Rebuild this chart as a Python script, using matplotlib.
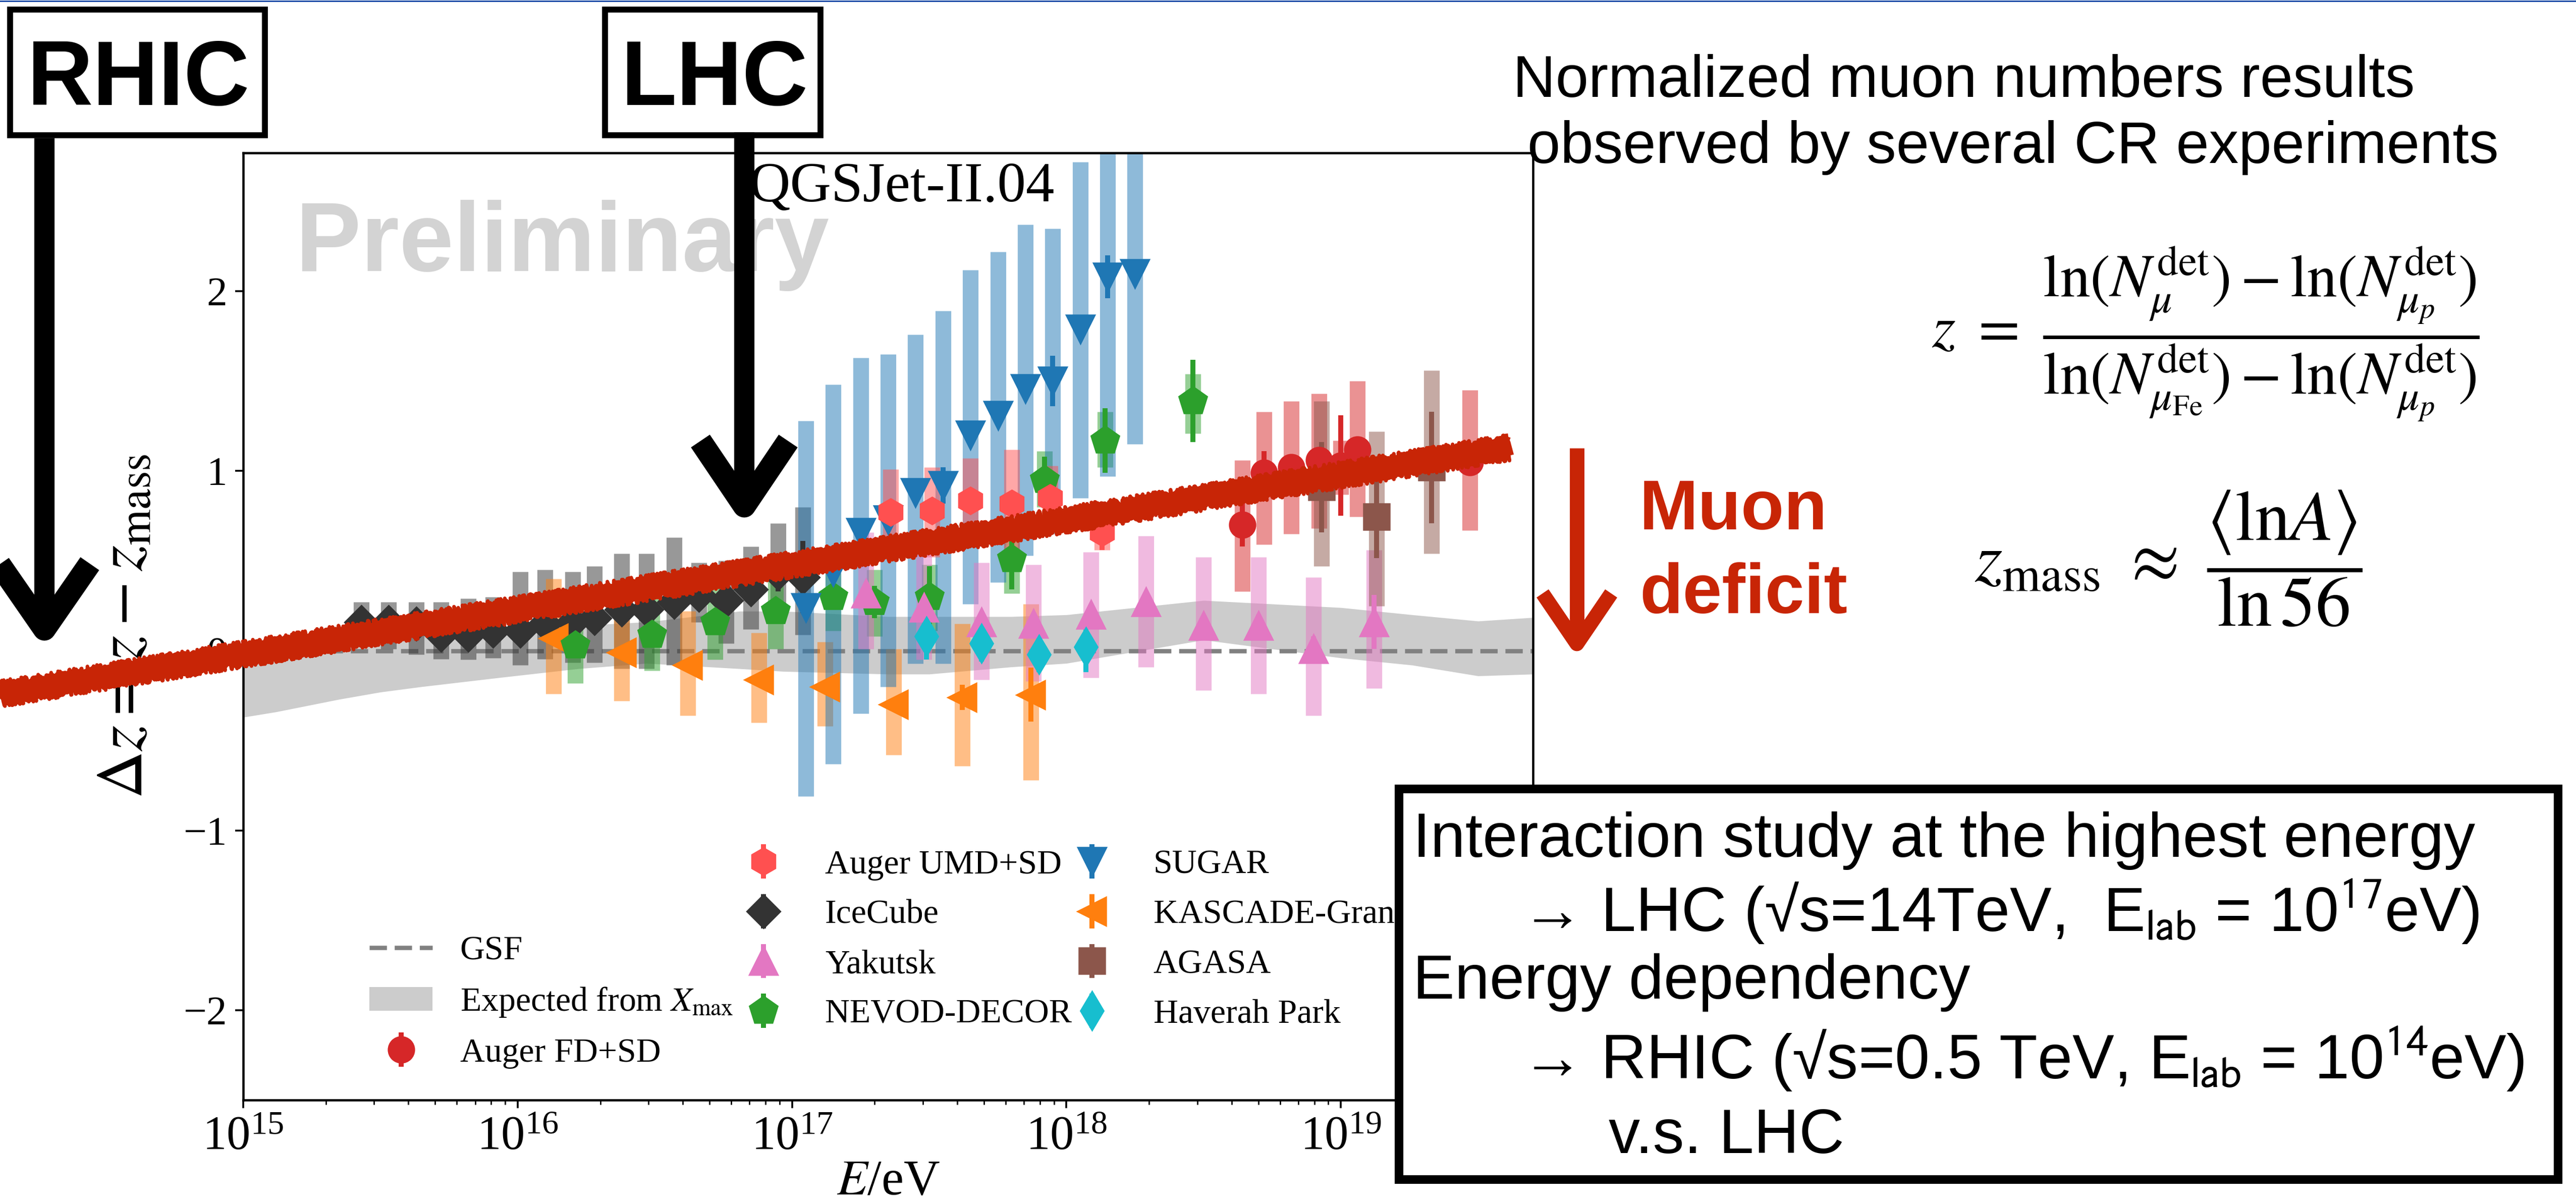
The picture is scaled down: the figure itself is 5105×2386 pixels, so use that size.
import numpy as np
import matplotlib
matplotlib.use("Agg")
import matplotlib.pyplot as plt
from matplotlib.lines import Line2D
from matplotlib.patches import Rectangle

W, H, DPI = 5105, 2386, 325

plt.rcParams['font.family'] = 'serif'
plt.rcParams['font.serif'] = ['Liberation Serif', 'DejaVu Serif']
plt.rcParams['mathtext.fontset'] = 'stix'

# ---- data: log10(E/eV), z, systematic band (lo/hi), stat half error ----
ice_logE = [15.43, 15.53, 15.63, 15.72, 15.82, 15.91, 16.01, 16.10, 16.20,
            16.28, 16.38, 16.47, 16.57, 16.66, 16.76, 16.85, 16.95, 17.04]
ice_z = [0.16, 0.16, 0.15, 0.09, 0.09, 0.11, 0.11, 0.15, 0.16,
         0.18, 0.23, 0.23, 0.27, 0.31, 0.28, 0.34, 0.43, 0.41]
ice_lo = [0.03, 0.01, -0.02, -0.045, -0.05, -0.04, -0.08, -0.045, -0.065,
          -0.065, -0.10, -0.10, -0.08, 0.16, 0.04, 0.12, 0.24, 0.09]
ice_hi = [0.27, 0.27, 0.27, 0.27, 0.29, 0.30, 0.44, 0.45, 0.44,
          0.47, 0.54, 0.54, 0.63, 0.49, 0.50, 0.58, 0.71, 0.80]
ice_err = [0.02] * 15 + [0.05, 0.10, 0.20]

sugar_logE = [17.05, 17.15, 17.25, 17.35, 17.45, 17.55, 17.65, 17.75, 17.85,
              17.95, 18.05, 18.15, 18.25]
sugar_z = [0.24, 0.44, 0.66, 0.73, 0.88, 0.92, 1.20, 1.31, 1.46, 1.50, 1.79, 2.08, 2.10]
sugar_lo = [-0.81, -0.63, -0.35, -0.20, -0.07, -0.07, 0.26, 0.38, 0.53, 0.65, 0.85, 0.97, 1.15]
sugar_hi = [1.28, 1.48, 1.63, 1.65, 1.76, 1.89, 2.12, 2.22, 2.37, 2.35, 2.72, 3.2, 3.2]
sugar_err = [0.02, 0.03, 0.02, 0.02, 0.02, 0.10, 0.02, 0.05, 0.03, 0.14, 0.03, 0.12, 0.02]

umd_logE = [17.36, 17.51, 17.65, 17.80, 17.94, 18.13]
umd_z = [0.77, 0.78, 0.835, 0.82, 0.85, 0.66]
umd_lo = [0.51, 0.52, 0.60, 0.54, 0.67, 0.56]
umd_hi = [1.01, 1.02, 1.07, 1.12, 1.03, 0.75]
umd_err = [0.04, 0.04, 0.04, 0.05, 0.04, 0.10]

nevod_logE = [16.21, 16.49, 16.72, 16.94, 17.15, 17.30, 17.50, 17.80, 17.92, 18.14, 18.46]
nevod_z = [0.03, 0.09, 0.16, 0.22, 0.30, 0.27, 0.30, 0.51, 0.95, 1.17, 1.39]
nevod_lo = [-0.18, -0.11, -0.05, 0.01, 0.11, 0.08, 0.11, 0.32, 0.80, 1.02, 1.21]
nevod_hi = [0.14, 0.29, 0.35, 0.40, 0.43, 0.45, 0.48, 0.68, 1.11, 1.33, 1.54]
nevod_err = [0.03, 0.03, 0.03, 0.03, 0.04, 0.09, 0.17, 0.17, 0.13, 0.18, 0.23]

kg_logE = [16.13, 16.38, 16.62, 16.88, 17.12, 17.37, 17.62, 17.87]
kg_z = [0.07, -0.01, -0.08, -0.16, -0.20, -0.30, -0.26, -0.245]
kg_lo = [-0.24, -0.28, -0.36, -0.40, -0.42, -0.58, -0.64, -0.72]
kg_hi = [0.40, 0.20, 0.22, 0.10, 0.05, 0.01, 0.15, 0.26]
kg_err = [0.02, 0.02, 0.02, 0.02, 0.02, 0.02, 0.07, 0.15]

yak_logE = [17.27, 17.48, 17.69, 17.88, 18.09, 18.29, 18.50, 18.70, 18.90, 19.12]
yak_z = [0.32, 0.24, 0.16, 0.15, 0.20, 0.27, 0.14, 0.14, 0.01, 0.16]
yak_lo = [0.01, -0.05, -0.16, -0.17, -0.15, -0.09, -0.22, -0.24, -0.36, -0.21]
yak_hi = [0.66, 0.56, 0.49, 0.48, 0.55, 0.64, 0.52, 0.52, 0.41, 0.56]
yak_err = [0.03, 0.03, 0.03, 0.03, 0.03, 0.05, 0.03, 0.06, 0.07, 0.15]

hp_logE = [17.49, 17.69, 17.90, 18.07]
hp_z = [0.08, 0.04, -0.02, 0.02]
hp_err = [0.13, 0.10, 0.10, 0.14]

fd_logE = [18.64, 18.72, 18.82, 18.92, 19.00, 19.06, 19.47]
fd_z = [0.70, 0.99, 1.02, 1.06, 1.03, 1.12, 1.05]
fd_lo = [0.33, 0.59, 0.65, 0.68, 0.87, 0.745, 0.67]
fd_hi = [1.06, 1.33, 1.39, 1.43, 1.17, 1.50, 1.45]
fd_err = [0.12, 0.12, 0.05, 0.05, 0.28, 0.05, 0.05]

agasa_logE = [18.93, 19.13, 19.33]
agasa_z = [0.91, 0.745, 1.02]
agasa_lo = [0.47, 0.25, 0.54]
agasa_hi = [1.39, 1.22, 1.56]
agasa_err = [0.25, 0.23, 0.31]

band_logE = [15.0, 15.12, 15.35, 15.5, 15.65, 15.93, 16.22, 16.47, 16.81, 16.97,
             17.35, 17.5, 17.8, 18.0, 18.5, 19.0, 19.26, 19.5, 19.7]
band_lo = [-0.37, -0.34, -0.27, -0.23, -0.20, -0.15, -0.10, -0.07, -0.10, -0.115,
           -0.13, -0.13, -0.09, -0.07, 0.06, -0.04, -0.08, -0.14, -0.13]
band_hi = [0.0, 0.02, 0.06, 0.08, 0.10, 0.12, 0.14, 0.16, 0.22, 0.22,
           0.19, 0.19, 0.19, 0.20, 0.28, 0.24, 0.20, 0.165, 0.185]

gsf_logE = [15.3, 19.7]
gsf_z = [0.0, 0.0]

# hand-drawn trend line on the slide
trend_logE = [14.117, 19.61]
trend_z = [-0.24, 1.13]

fig = plt.figure(figsize=(W / DPI, H / DPI), dpi=DPI)
ax = fig.add_axes([482 / W, 1 - 2180 / H, 2556 / W, 1877 / H])


def fx(x):
    return x / W


def fy(y):
    return 1 - y / H


def experiment(logE, z, err, color, marker, ms, label, lo=None, hi=None):
    E = 10.0 ** np.array(logE)
    if lo is not None:
        ax.vlines(E, lo, hi, colors=color, alpha=0.5, lw=6.9, zorder=2)
    return ax.errorbar(E, z, yerr=err, fmt=marker, color=color, ms=ms,
                       elinewidth=2.2, capsize=0, zorder=3, label=label)


h_band = ax.fill_between(10.0 ** np.array(band_logE), band_lo, band_hi,
                         color='#cccccc', lw=0, zorder=1)
h_gsf, = ax.plot(10.0 ** np.array(gsf_logE), gsf_z, '--', color='grey',
                 lw=1.9, dashes=(4, 1.8), zorder=1.5)

h_ice = experiment(ice_logE, ice_z, ice_err, '#333333', 'D', 10, 'IceCube', ice_lo, ice_hi)
h_kg = experiment(kg_logE, kg_z, kg_err, '#ff7f0e', '<', 12, 'KASCADE-Grand', kg_lo, kg_hi)
h_nev = experiment(nevod_logE, nevod_z, nevod_err, '#2ca02c', 'p', 12.5, 'NEVOD-DECOR', nevod_lo, nevod_hi)
h_sug = experiment(sugar_logE, sugar_z, sugar_err, '#1f77b4', 'v', 12, 'SUGAR', sugar_lo, sugar_hi)
h_umd = experiment(umd_logE, umd_z, umd_err, '#ff5050', 'h', 11.5, 'Auger UMD+SD', umd_lo, umd_hi)
h_yak = experiment(yak_logE, yak_z, yak_err, '#e377c2', '^', 12, 'Yakutsk', yak_lo, yak_hi)
h_hp = experiment(hp_logE, hp_z, hp_err, '#17becf', 'd', 11.6, 'Haverah Park')
h_fd = experiment(fd_logE, fd_z, fd_err, '#d62728', 'o', 11, 'Auger FD+SD', fd_lo, fd_hi)
h_ag = experiment(agasa_logE, agasa_z, agasa_err, '#8c564b', 's', 11, 'AGASA', agasa_lo, agasa_hi)

# red scribble across the plot (ragged edges from sketch params)
Et = 10.0 ** np.array(trend_logE)
red = '#c82506'
ax.plot(Et, trend_z, color=red, lw=7.5, clip_on=False, zorder=10, solid_capstyle='butt')
for s, lw, ln in [(20, 2.5, 5), (26, 1.6, 4), (14, 3.5, 8)]:
    l2, = ax.plot(Et, trend_z, color=red, lw=lw, clip_on=False, zorder=10)
    l2.set_sketch_params(scale=s, length=ln, randomness=10)

ax.set_xscale('log')
ax.set_xlim(1e15, 10 ** 19.7)
ax.set_ylim(-2.5, 2.77)
ax.set_yticks([-2, -1, 0, 1, 2])
ax.tick_params(axis='x', which='major', labelsize=21)
ax.tick_params(axis='y', labelsize=18)
for sp in ax.spines.values():
    sp.set_linewidth(1.0)
ax.set_xlabel(r'$E$/eV', fontsize=22, labelpad=0)
ax.set_ylabel(r'$\Delta z = z - z_{\rm mass}$', fontsize=29, labelpad=12)

leg_kw = dict(loc='upper left', frameon=False, fontsize=15, labelspacing=0.55)
leg1 = ax.legend([h_gsf, h_band, h_fd], ['GSF', r'Expected from $X_{\rm max}$', 'Auger FD+SD'],
                 bbox_to_anchor=(0.074, 0.206), handlelength=1.85, **leg_kw)
ax.add_artist(leg1)
leg2 = ax.legend([h_umd, h_ice, h_yak, h_nev],
                 ['Auger UMD+SD', 'IceCube', 'Yakutsk', 'NEVOD-DECOR'],
                 bbox_to_anchor=(0.353, 0.297), **leg_kw)
ax.add_artist(leg2)
ax.legend([h_sug, h_kg, h_ag, h_hp],
          ['SUGAR', 'KASCADE-Grand', 'AGASA', 'Haverah Park'],
          bbox_to_anchor=(0.6077, 0.297), **leg_kw)

ax.text((1484 - 482) / 2556, (2180 - 399) / 1877, 'QGSJet-II.04', transform=ax.transAxes,
        fontsize=25, va='baseline', ha='left')
ax.text((586 - 482) / 2556, (2180 - 537) / 1877, 'Preliminary', transform=ax.transAxes,
        fontsize=43, fontweight='bold', family='Liberation Sans', color='#d3d3d3',
        va='baseline', ha='left', zorder=0.5)

# ---- slide decorations ----
sans = 'Liberation Sans'
fig.add_artist(Line2D([0, 1], [fy(2), fy(2)], transform=fig.transFigure, color='#0a3ca0', lw=0.6))

for x0, x1, txt, tx in [(20, 525, 'RHIC', 54), (1199, 1626, 'LHC', 1231)]:
    fig.add_artist(Rectangle((fx(x0), fy(268)), fx(x1) - fx(x0), fy(19) - fy(268),
                             transform=fig.transFigure, facecolor='white', edgecolor='black',
                             lw=2.6, zorder=4))
    fig.text(fx(tx), fy(208), txt, family=sans, fontweight='bold', fontsize=40,
             ha='left', va='baseline', zorder=5)


def arrow(x, y0, y1, dx, dy, color, lw_shaft, lw_head):
    fig.add_artist(Line2D([fx(x), fx(x)], [fy(y0), fy(y1 - 10)], transform=fig.transFigure,
                          color=color, lw=lw_shaft, solid_capstyle='butt', zorder=6))
    fig.add_artist(Line2D([fx(x - dx), fx(x), fx(x + dx)], [fy(y1 - dy), fy(y1), fy(y1 - dy)],
                          transform=fig.transFigure, color=color, lw=lw_head,
                          solid_joinstyle='round', solid_capstyle='butt', zorder=6))


arrow(88, 274, 1247, 90, 130, 'black', 8.9, 10)
arrow(1475, 262, 1003, 87, 129, 'black', 8.9, 10)
arrow(3125, 888, 1276, 68, 100, red, 6.4, 6.4)

fig.text(fx(3249), fy(1049), 'Muon', family=sans, fontweight='bold', fontsize=31,
         color=red, ha='left', va='baseline')
fig.text(fx(3249), fy(1215), 'deficit', family=sans, fontweight='bold', fontsize=31,
         color=red, ha='left', va='baseline')

fig.text(fx(2998), fy(192), 'Normalized muon numbers results', family=sans, fontsize=26,
         ha='left', va='baseline')
fig.text(fx(3027), fy(323), 'observed by several CR experiments', family=sans, fontsize=26,
         ha='left', va='baseline')

fig.text(fx(3828), fy(662),
         r'$z\ =\ \dfrac{\ln(N_{\mu}^{\rm det})-\ln(N_{\mu_p}^{\rm det})}'
         r'{\ln(N_{\mu_{\rm Fe}}^{\rm det})-\ln(N_{\mu_p}^{\rm det})}$',
         fontsize=26.5, ha='left', va='center')
fig.text(fx(3913), fy(1107), r'$z_{\rm mass}\ \approx\ \dfrac{\langle \mathrm{ln}A\rangle}{\ln 56}$',
         fontsize=31, ha='left', va='center')

# bottom-right box
fig.add_artist(Rectangle((fx(2772), fy(2337)), fx(5069) - fx(2772), fy(1563) - fy(2337),
                         transform=fig.transFigure, facecolor='white', edgecolor='black',
                         lw=3.8, zorder=5))
box_lines = [
    (2800, 1698, 'Interaction study at the highest energy'),
    (3014, 1846, r'→ LHC (√s=14TeV,  E$_{\rm lab}$ = 10$^{17}$eV)'),
    (2800, 1979, 'Energy dependency'),
    (3014, 2138, r'→ RHIC (√s=0.5 TeV, E$_{\rm lab}$ = 10$^{14}$eV)'),
    (3188, 2285, 'v.s. LHC'),
]
for x, y, s in box_lines:
    fig.text(fx(x), fy(y), s, family=sans, fontsize=27.5, ha='left', va='baseline',
             math_fontfamily='stixsans', zorder=6)

fig.savefig('out.png', dpi=DPI)
